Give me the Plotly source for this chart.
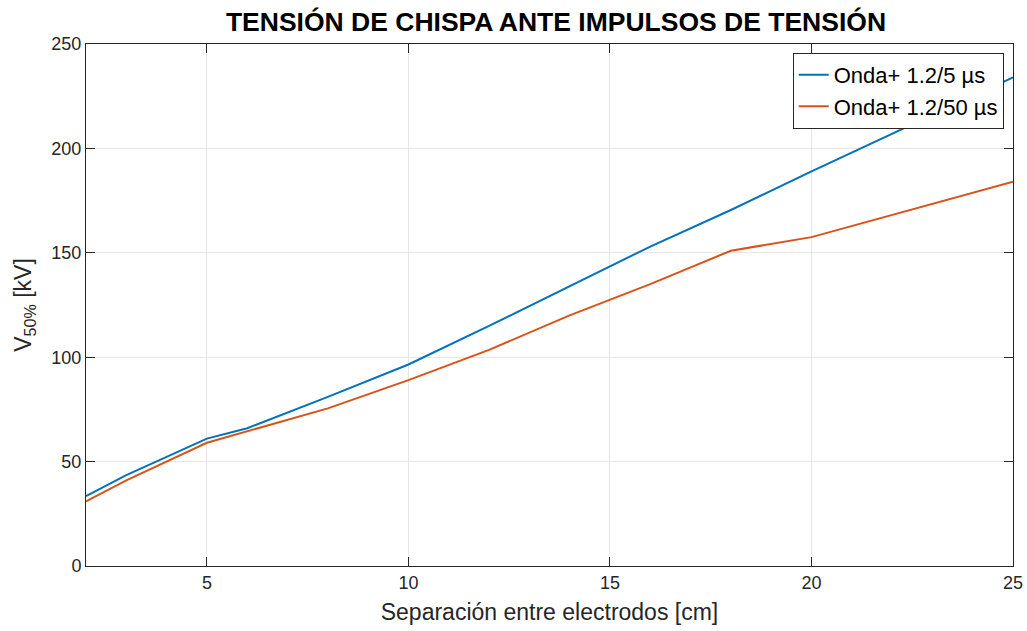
import plotly.graph_objects as go

sep_cm = [2, 3, 5, 6, 8, 10, 12, 14, 16, 18, 20, 25]
v50_1_2_5 = [33.5, 43.5, 61, 66, 81, 96.5, 115, 134, 153, 170.5, 189, 234]
v50_1_2_50 = [31, 41, 59, 64.5, 75.5, 89, 103.5, 120, 135, 151, 157.5, 184]
series_names = ["Onda+ 1.2/5 µs", "Onda+ 1.2/50 µs"]
x_ticks = [5, 10, 15, 20, 25]
y_ticks = [0, 50, 100, 150, 200, 250]

FONT = "Liberation Sans, Arial, Helvetica, sans-serif"

fig = go.Figure()
fig.add_trace(go.Scatter(x=sep_cm, y=v50_1_2_5, mode="lines", name=series_names[0],
                         line=dict(color="#0072BD", width=2)))
fig.add_trace(go.Scatter(x=sep_cm, y=v50_1_2_50, mode="lines", name=series_names[1],
                         line=dict(color="#D95319", width=2)))

axis_common = dict(
    showline=True, linecolor="#262626", linewidth=1, mirror="ticks",
    ticks="inside", ticklen=9, tickcolor="#262626", tickwidth=1,
    showgrid=True, gridcolor="#e6e6e6", gridwidth=1,
    zeroline=False, automargin=False,
    tickfont=dict(family=FONT, size=18, color="#262626"),
)

fig.update_layout(
    width=1027, height=631,
    margin=dict(l=86, r=14, t=44, b=65),
    paper_bgcolor="white", plot_bgcolor="white",
    title=dict(text="<b>TENSIÓN DE CHISPA ANTE IMPULSOS DE TENSIÓN</b>",
               x=556 / 1027, xanchor="center", y=0.965, yanchor="middle",
               font=dict(family=FONT, size=26.5, color="black")),
    xaxis=dict(range=[2, 25], tickvals=x_ticks,
               title=dict(text="Separación entre electrodos [cm]",
                          font=dict(family=FONT, size=23, color="#262626"), standoff=12),
               **axis_common),
    yaxis=dict(range=[0, 250], tickvals=y_ticks,
               title=dict(text="V<sub>50%</sub> [kV]",
                          font=dict(family=FONT, size=23, color="#262626"), standoff=13),
               **axis_common),
    legend=dict(x=0.990, y=0.983, xanchor="right", yanchor="top",
                bgcolor="white", bordercolor="#262626", borderwidth=1,
                font=dict(family=FONT, size=22, color="black"),
                tracegroupgap=0, itemwidth=30),
    showlegend=True,
)

fig.write_html("out.html")
